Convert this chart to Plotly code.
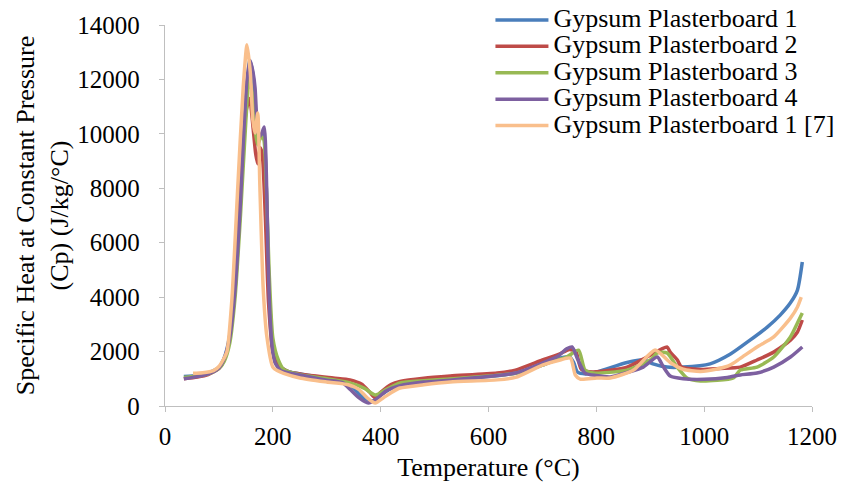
import plotly.graph_objects as go

# ---------------- data ----------------
names = ["Gypsum Plasterboard 1", "Gypsum Plasterboard 2", "Gypsum Plasterboard 3",
         "Gypsum Plasterboard 4", "Gypsum Plasterboard 1 [7]"]

t_gp1 = [35, 60, 80, 100, 110, 120, 130, 140, 150, 157, 163, 168, 173, 178, 183, 188, 193, 200,
         210, 230, 260, 300, 330, 345, 365, 385, 400, 420, 436, 480, 529, 580, 620, 660, 700,
         730, 751, 758, 765, 780, 800, 857, 887, 905, 931, 961, 1011, 1048, 1085, 1117, 1141,
         1160, 1173, 1182]
cp_gp1 = [1080, 1120, 1200, 1420, 1780, 2600, 4600, 7800, 11000, 12700, 12200, 10800, 10000, 9900,
          10100, 8000, 4300, 2200, 1500, 1250, 1150, 1000, 950, 750, 350, 180, 400, 650, 780, 900,
          980, 1050, 1120, 1250, 1500, 1750, 1800, 1600, 1250, 1180, 1250, 1600, 1700, 1550, 1430,
          1430, 1550, 1900, 2420, 2900, 3340, 3790, 4260, 5290]

t_gp2 = [35, 60, 80, 100, 110, 120, 130, 140, 150, 157, 163, 168, 172, 176, 180, 186, 192, 200,
         210, 230, 260, 312, 343, 365, 380, 390, 400, 420, 436, 480, 529, 616, 650, 700, 730,
         750, 762, 772, 794, 857, 894, 931, 937, 950, 958, 993, 1030, 1067, 1098, 1129, 1160,
         1173, 1182]
cp_gp2 = [1000, 1060, 1150, 1380, 1700, 2500, 4500, 7800, 10800, 11300, 10300, 9300, 8900, 9500,
          9300, 7000, 3800, 2000, 1500, 1250, 1150, 1030, 960, 800, 500, 300, 500, 800, 900, 1020,
          1100, 1210, 1320, 1690, 1900, 2080, 2000, 1350, 1250, 1430, 1800, 2170, 1980, 1700,
          1430, 1340, 1380, 1430, 1690, 1980, 2420, 2720, 3160]

t_gp3 = [35, 60, 80, 100, 110, 120, 130, 140, 150, 156, 162, 168, 172, 178, 183, 188, 193, 200,
         210, 220, 250, 300, 343, 370, 390, 410, 436, 480, 529, 600, 650, 700, 720, 745, 767,
         779, 794, 857, 900, 913, 931, 950, 968, 993, 1054, 1067, 1098, 1129, 1160, 1173, 1182]
cp_gp3 = [1050, 1100, 1180, 1380, 1650, 2300, 4000, 7000, 10500, 12000, 11500, 10000, 9600, 9900,
          9800, 8000, 5000, 2500, 1700, 1350, 1150, 1000, 850, 650, 400, 600, 850, 930, 990, 1100,
          1200, 1500, 1650, 1800, 2050, 1320, 1210, 1320, 1690, 1950, 1950, 1430, 1030, 920,
          1030, 1320, 1430, 1800, 2540, 3050, 3420]

t_gp4 = [35, 60, 80, 100, 110, 120, 130, 140, 146, 152, 158, 163, 167, 171, 175, 179, 184, 188,
         191, 195, 200, 205, 215, 250, 300, 330, 343, 360, 377, 392, 410, 436, 480, 529, 580,
         620, 650, 700, 730, 745, 755, 766, 779, 800, 826, 860, 887, 913, 924, 937, 961, 1000,
         1043, 1067, 1098, 1129, 1160, 1182]
cp_gp4 = [1000, 1080, 1180, 1400, 1750, 2500, 4300, 7500, 10000, 12000, 12700, 12300, 11700,
          10300, 9900, 10000, 10250, 8500, 5620, 3200, 1950, 1550, 1300, 1140, 950, 850, 620, 300,
          110, 250, 550, 750, 880, 950, 1050, 1130, 1210, 1580, 1850, 2100, 2170, 1690, 1210,
          1120, 1070, 1250, 1430, 1800, 1450, 1100, 1000, 980, 1050, 1140, 1210, 1430, 1800, 2170]

t_gp1r = [52, 70, 90, 100, 108, 115, 124, 135, 145, 152, 158, 163, 167, 172, 176, 182, 189, 200,
          208, 220, 250, 300, 340, 360, 375, 390, 405, 420, 436, 480, 529, 616, 650, 700, 733,
          752, 761, 770, 801, 826, 869, 909, 937, 961, 993, 1024, 1048, 1067, 1098, 1129, 1160,
          1173, 1180]
cp_gp1r = [1200, 1220, 1300, 1450, 1700, 2000, 3900, 8050, 11700, 13270, 12300, 10500, 10030,
           10770, 8050, 4370, 2540, 1430, 1300, 1200, 1030, 880, 780, 600, 300, 110, 300, 500, 660,
           780, 880, 960, 1050, 1500, 1690, 1760, 1140, 990, 1030, 1030, 1320, 2060, 1600, 1350,
           1270, 1360, 1500, 1750, 2170, 2540, 3230, 3640, 4000]

series_t = [t_gp1, t_gp2, t_gp3, t_gp4, t_gp1r]
series_cp = [cp_gp1, cp_gp2, cp_gp3, cp_gp4, cp_gp1r]
colors = ["#4A7EBB", "#BE4B48", "#98B954", "#7D60A0", "#F9BF8C"]

x_ticks = [0, 200, 400, 600, 800, 1000, 1200]
y_ticks = [0, 2000, 4000, 6000, 8000, 10000, 12000, 14000]

FONT = "Liberation Serif, Times New Roman, serif"

fig = go.Figure()
for name, t, cp, c in zip(names, series_t, series_cp, colors):
    fig.add_trace(go.Scatter(
        x=t, y=cp, mode="lines",
        name="<span style=\"font-family:'Liberation Serif';font-size:26px\">" + name + "</span>",
        line=dict(color=c, width=3.5, shape="spline", smoothing=0.6),
    ))

axis_common = dict(
    showgrid=False, zeroline=False, showline=True, linecolor="#BFBFBF", linewidth=1.3,
    ticks="outside", tickcolor="#BFBFBF", ticklen=5, tickwidth=1.3,
    tickfont=dict(family=FONT, size=25, color="black"),
    tickformat="d",
)

fig.update_layout(
    width=845, height=497,
    margin=dict(l=165, r=33, t=25, b=91, autoexpand=False),
    paper_bgcolor="white", plot_bgcolor="white",
    font=dict(family=FONT, color="black"),
    xaxis=dict(range=[0, 1200], tickvals=x_ticks, ticklabelstandoff=3,
               title=dict(text="Temperature (°C)", font=dict(family=FONT, size=26), standoff=8),
               **axis_common),
    yaxis=dict(range=[0, 14000], tickvals=y_ticks, ticklabelstandoff=14,
               title=dict(text="Specific Heat at Constant Pressure<br>(Cp) (J/kg/°C)",
                          font=dict(family=FONT, size=26), standoff=1),
               **axis_common),
    legend=dict(x=0.503, y=1.061, xanchor="left", yanchor="top", bgcolor="rgba(0,0,0,0)",
                font=dict(family=FONT, size=18, color="black"), itemwidth=53,
                tracegroupgap=0),
    showlegend=True,
)

fig.write_html("out.html")
